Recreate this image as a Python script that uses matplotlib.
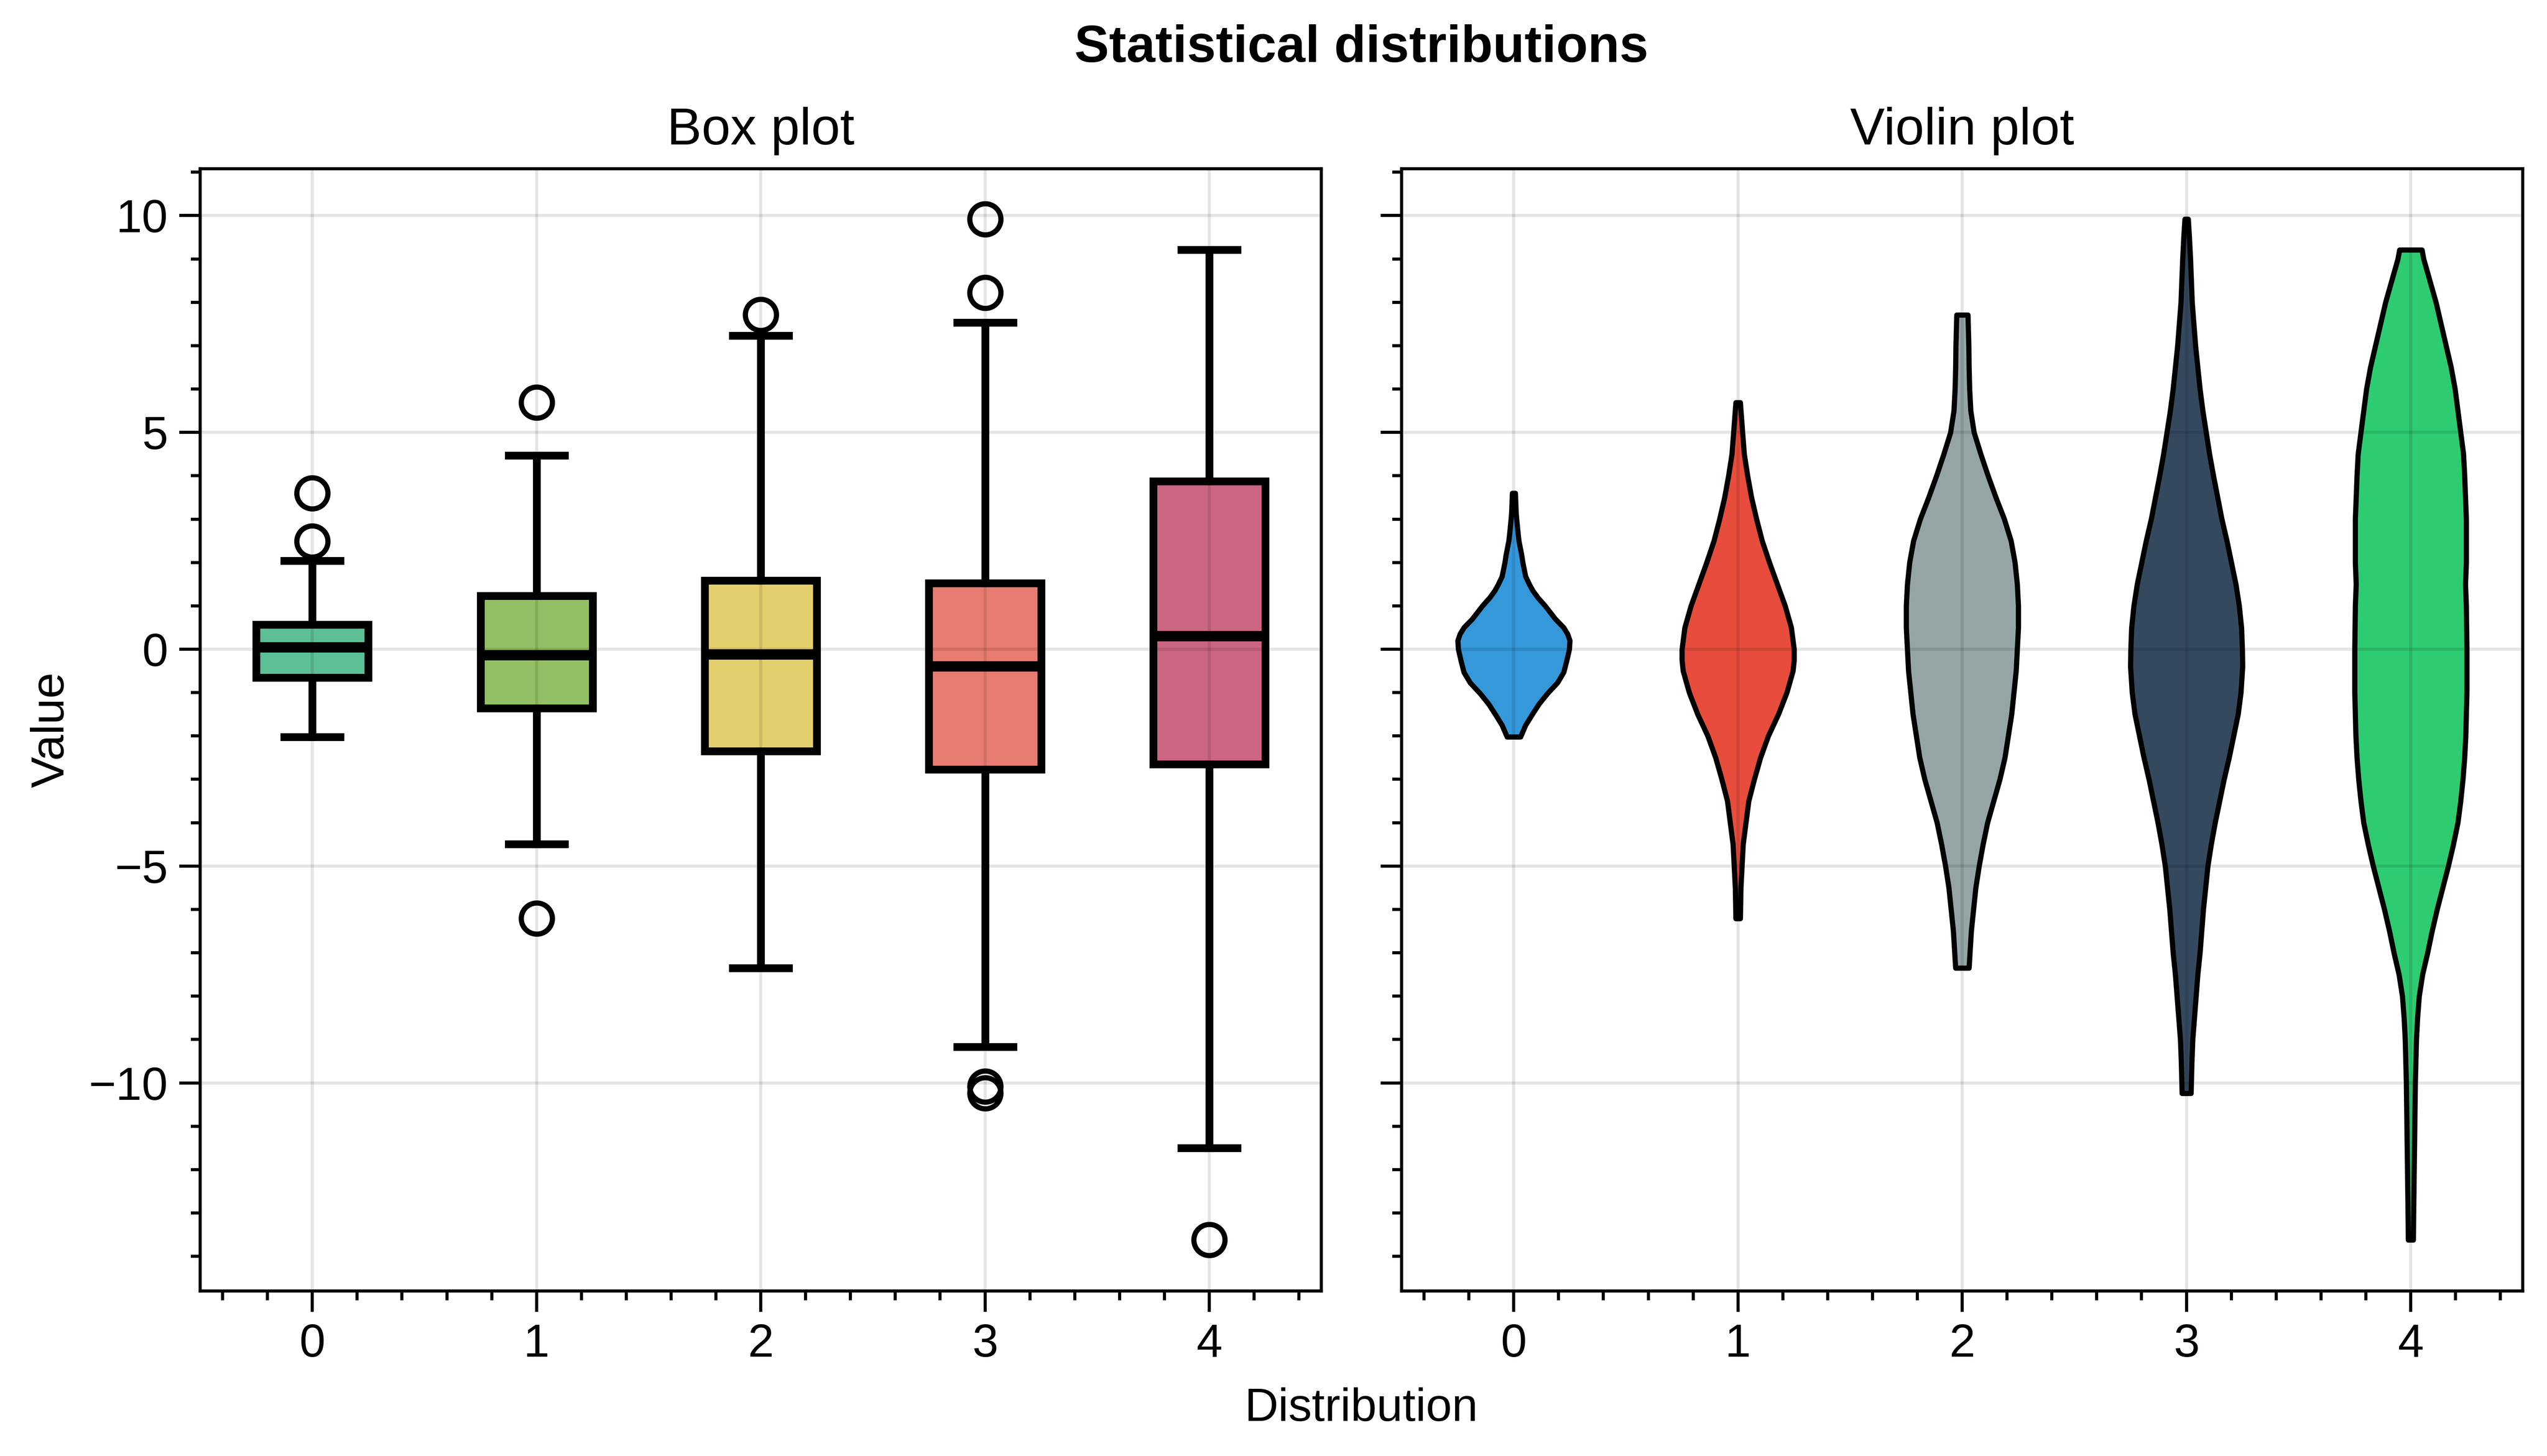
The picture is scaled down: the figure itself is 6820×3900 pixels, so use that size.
import numpy as np
import matplotlib.pyplot as plt
from matplotlib.ticker import MultipleLocator

plt.rcParams['font.family'] = ['Liberation Sans', 'DejaVu Sans']

# ---- data ----
positions = [0, 1, 2, 3, 4]
tick_labels = ['0', '1', '2', '3', '4']

# box plot statistics
box_med = [0.04, -0.14, -0.12, -0.40, 0.30]
box_q1 = [-0.65, -1.36, -2.35, -2.77, -2.65]
box_q3 = [0.57, 1.23, 1.58, 1.52, 3.87]
box_whislo = [-2.02, -4.49, -7.35, -9.17, -11.50]
box_whishi = [2.04, 4.47, 7.23, 7.53, 9.21]
box_fliers = [[3.60, 2.49], [5.69, -6.21], [7.71], [9.92, 8.22, -10.08, -10.24], [-13.62]]
box_colors = ['#5dbf96', '#93c064', '#e4cf6e', '#e87c70', '#ca6582']

# violin outlines: y coordinates and relative density (max = 1)
v0_y = [-2.02, -1.75, -1.5, -1.26, -1.02, -0.77, -0.53, -0.28, 0.0, 0.2, 0.35, 0.5, 0.7,
        0.85, 1.0, 1.19, 1.35, 1.49, 1.68, 2.0, 2.17, 2.5, 2.67, 3.0, 3.16, 3.6]
v0_d = [0.12, 0.21, 0.33, 0.45, 0.60, 0.78, 0.89, 0.94, 0.99, 1.0, 0.96, 0.89, 0.74,
        0.65, 0.56, 0.43, 0.34, 0.28, 0.21, 0.16, 0.14, 0.09, 0.075, 0.05, 0.04, 0.027]
v1_y = [-6.21, -5.5, -5, -4.5, -4, -3.5, -3, -2.5, -2, -1.5, -1, -0.5, -0.25, 0,
        0.5, 1, 1.5, 2, 2.5, 3, 3.5, 4, 4.5, 5, 5.69]
v1_d = [0.04, 0.05, 0.07, 0.09, 0.14, 0.19, 0.29, 0.40, 0.54, 0.72, 0.87, 0.98, 1.0, 1.0,
        0.95, 0.84, 0.70, 0.56, 0.43, 0.33, 0.24, 0.17, 0.11, 0.08, 0.04]
v2_y = [-7.35, -6.5, -6, -5.5, -5, -4.5, -4, -3.5, -3, -2.5, -2, -1.5, -1, -0.5, 0,
        0.5, 1, 1.5, 2, 2.5, 3, 3.5, 4, 4.5, 5, 5.5, 6, 6.5, 7, 7.71]
v2_d = [0.12, 0.16, 0.20, 0.24, 0.30, 0.37, 0.45, 0.56, 0.67, 0.76, 0.82, 0.88, 0.92, 0.96, 0.98,
        1.0, 1.0, 0.98, 0.94, 0.87, 0.75, 0.60, 0.46, 0.33, 0.21, 0.15, 0.13, 0.12, 0.115, 0.10]
v3_y = [-10.24, -9.5, -9, -8.5, -8, -7.5, -7, -6.5, -6, -5.5, -5, -4.5, -4, -3.5, -3, -2.5,
        -2, -1.5, -1, -0.4, 0, 0.5, 1, 1.5, 2, 2.5, 3, 3.5, 4, 4.5, 5, 5.5, 6, 6.5, 7, 7.5,
        8, 8.5, 9, 9.5, 9.92]
v3_d = [0.08, 0.095, 0.11, 0.14, 0.17, 0.20, 0.24, 0.27, 0.30, 0.34, 0.38, 0.44, 0.51, 0.59,
        0.67, 0.76, 0.84, 0.92, 0.97, 1.0, 0.995, 0.98, 0.94, 0.88, 0.80, 0.72, 0.63, 0.555,
        0.48, 0.41, 0.35, 0.29, 0.24, 0.20, 0.16, 0.13, 0.10, 0.085, 0.07, 0.05, 0.03]
v4_y = [-13.62, -13, -12, -11, -10, -9, -8.5, -8, -7.5, -7, -6.5, -6, -5.5, -5, -4.5, -4,
        -3.5, -3, -2.5, -2, -1.5, -1, 0, 1, 1.5, 2, 3, 4, 4.5, 5, 5.5, 6, 6.5, 7, 7.5, 8,
        8.5, 9, 9.21]
v4_d = [0.045, 0.05, 0.06, 0.07, 0.08, 0.10, 0.12, 0.15, 0.21, 0.30, 0.38, 0.47, 0.57, 0.67,
        0.76, 0.84, 0.89, 0.93, 0.96, 0.98, 0.99, 1.0, 1.0, 0.99, 0.975, 0.99, 0.99, 0.96,
        0.94, 0.89, 0.84, 0.79, 0.72, 0.63, 0.54, 0.45, 0.34, 0.23, 0.20]
violin_colors = ['#3498db', '#e74c3c', '#95a5a6', '#34495e', '#2ecc71']

# ---- figure ----
fig = plt.figure(figsize=(6.82, 3.9), dpi=1000)
ax1 = fig.add_axes([0.0786, 0.1133, 0.4402, 0.7708])
ax2 = fig.add_axes([0.5503, 0.1133, 0.4402, 0.7708], sharey=ax1)

# box plot
stats = []
for i in range(len(positions)):
    stats.append(dict(med=box_med[i], q1=box_q1[i], q3=box_q3[i],
                      whislo=box_whislo[i], whishi=box_whishi[i],
                      fliers=box_fliers[i], label=tick_labels[i]))
bp = ax1.bxp(stats, positions=positions, widths=0.5, patch_artist=True,
             boxprops=dict(linewidth=1.5, edgecolor='black'),
             medianprops=dict(linewidth=2.0, color='black'),
             whiskerprops=dict(linewidth=1.5, color='black'),
             capprops=dict(linewidth=1.5, color='black'),
             flierprops=dict(marker='o', markersize=6, markeredgewidth=1.0,
                             markerfacecolor='none', markeredgecolor='black'),
             zorder=1)
for patch, c in zip(bp['boxes'], box_colors):
    patch.set_facecolor(c)

# violin plot
vys = [v0_y, v1_y, v2_y, v3_y, v4_y]
vds = [v0_d, v1_d, v2_d, v3_d, v4_d]
vpstats = []
for y, d in zip(vys, vds):
    y = np.array(y)
    vpstats.append(dict(coords=y, vals=np.array(d), mean=np.mean(y), median=np.median(y),
                        min=y.min(), max=y.max()))
vp = ax2.violin(vpstats, positions=positions, widths=0.5, showextrema=False)
for body, c in zip(vp['bodies'], violin_colors):
    body.set_facecolor(c)
    body.set_edgecolor('black')
    body.set_linewidth(1.0)
    body.set_joinstyle('round')
    body.set_alpha(1)

for ax in (ax1, ax2):
    ax.set_xlim(-0.5, 4.5)
    ax.set_xticks(positions)
    ax.set_xticklabels(tick_labels)
    ax.xaxis.set_minor_locator(MultipleLocator(0.2))
    ax.yaxis.set_major_locator(MultipleLocator(5))
    ax.yaxis.set_minor_locator(MultipleLocator(1))
    ax.tick_params(which='both', direction='out', width=0.6, labelsize=9, pad=2.2,
                   top=False, right=False)
    ax.tick_params(which='major', length=4)
    ax.tick_params(which='minor', length=1.8)
    ax.grid(True, which='major', color='black', alpha=0.1, linewidth=0.6)
    for s in ax.spines.values():
        s.set_linewidth(0.6)

ax2.tick_params(labelleft=False)
ax1.set_ylim(-14.80, 11.08)

ax1.set_title('Box plot', fontsize=10, pad=4.7)
ax2.set_title('Violin plot', fontsize=10, pad=4.7)
ax1.set_ylabel('Value', fontsize=9, labelpad=3)
fig.text(0.5345, 0.024, 'Distribution', fontsize=9, ha='center', va='baseline')
fig.text(0.5345, 0.9574, 'Statistical distributions', fontsize=10, fontweight='bold',
         ha='center', va='baseline')

fig.savefig('out.png', dpi=1000)
